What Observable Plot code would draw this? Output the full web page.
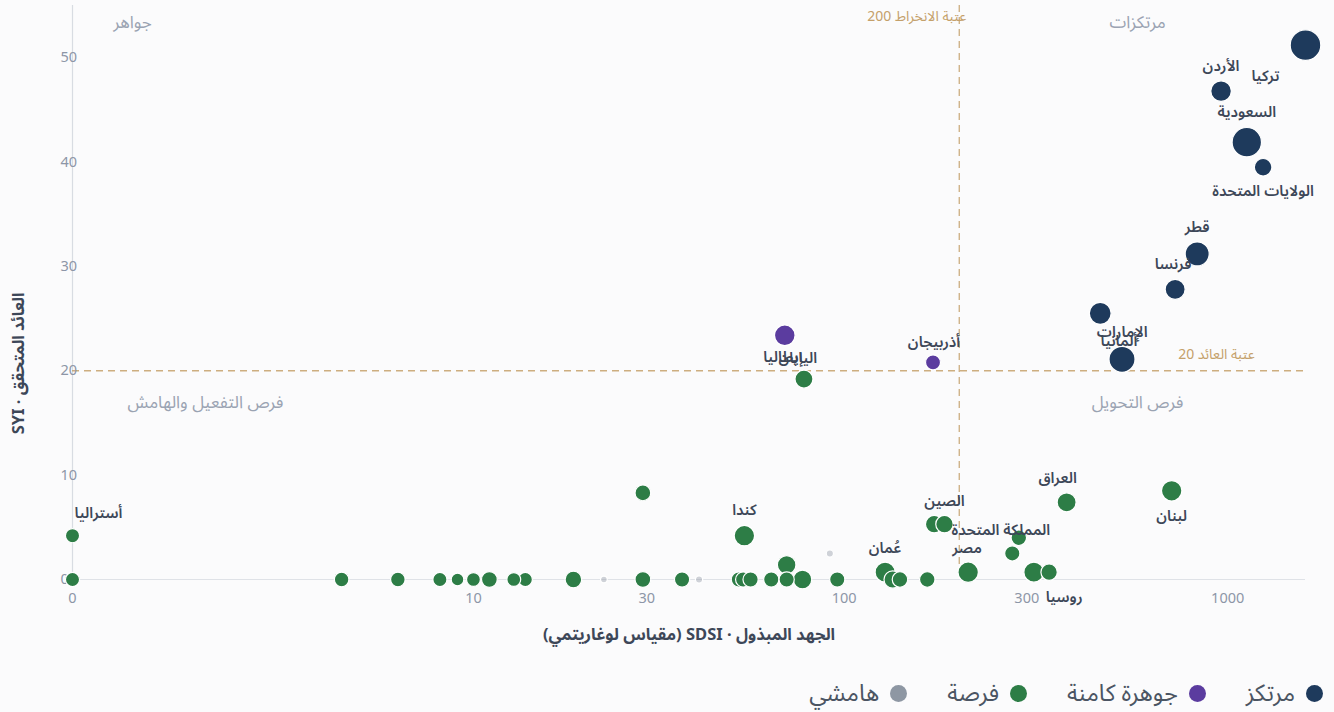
<!DOCTYPE html>
<html dir="rtl" lang="ar">
<head>
<meta charset="utf-8">
<script src="https://cdn.jsdelivr.net/npm/d3@7"></script>
<script src="https://cdn.jsdelivr.net/npm/@observablehq/plot@0.6"></script>
<style>
  html, body { margin: 0; padding: 0; background: #fbfbfc; }
  body { width: 1334px; height: 712px; overflow: hidden; font-family: "Noto Sans", "Noto Sans Arabic", "DejaVu Sans", sans-serif; }
  #legend { display: flex; flex-direction: row; align-items: center; gap: 40px; height: 66px; padding-right: 11px; font-size: 23.5px; color: #4b5563; }
  #legend .item { display: flex; align-items: center; gap: 11px; }
  #legend .sw { width: 17px; height: 17px; border-radius: 50%; display: inline-block; }
</style>
</head>
<body>
<div id="chart"></div>
<div id="legend"></div>
<script>
// ---- data ----
const names = [
  "تركيا","الأردن","السعودية","الولايات المتحدة","قطر","فرنسا","الإمارات","ألمانيا",
  "اليابان","أذربيجان",
  "إيطاليا","أستراليا","","","","","","","","","","","","","","","","كندا","","","","","","","عُمان","","","","","الصين","مصر","","المملكة المتحدة","","روسيا","العراق","لبنان",
  "","",""
];
const sdsi = [
  1593, 961, 1121, 1236, 833, 730, 466, 531,
  69.8, 170.8,
  78.4, 0, 0, 4.0, 6.0, 8.0, 9.0, 10.0, 11.1, 13, 14, 19, 29.3, 29.3, 37.3, 52.8, 54.2, 54.6, 56.7, 64.3, 70.6, 70.6, 77.7, 95.9, 128, 134, 140, 165, 172, 183, 211, 275, 286, 313, 343, 381, 715,
  23, 41.4, 91.7
];
const syi = [
  51.2, 46.8, 41.9, 39.5, 31.2, 27.8, 25.5, 21.1,
  23.4, 20.8,
  19.2, 4.2, 0, 0, 0, 0, 0, 0, 0, 0, 0, 0, 0, 8.3, 0, 0, 0, 4.2, 0, 0, 0, 1.4, 0, 0, 0.7, 0, 0, 0, 5.3, 5.3, 0.7, 2.5, 4.0, 0.7, 0.7, 7.4, 8.5,
  0, 0, 2.5
];
const category = [
  "مرتكز","مرتكز","مرتكز","مرتكز","مرتكز","مرتكز","مرتكز","مرتكز",
  "جوهرة كامنة","جوهرة كامنة",
  "فرصة","فرصة","فرصة","فرصة","فرصة","فرصة","فرصة","فرصة","فرصة","فرصة","فرصة","فرصة","فرصة","فرصة","فرصة","فرصة","فرصة","فرصة","فرصة","فرصة","فرصة","فرصة","فرصة","فرصة","فرصة","فرصة","فرصة","فرصة","فرصة","فرصة","فرصة","فرصة","فرصة","فرصة","فرصة","فرصة","فرصة",
  "هامشي","هامشي","هامشي"
];
const volume = [
  234, 106, 216, 77, 144, 100, 119, 169,
  106, 56,
  81, 50, 50, 53, 53, 50, 40, 48, 62, 48, 50, 69, 62, 62, 58, 58, 58, 104, 58, 58, 58, 86, 86, 58, 100, 76, 60, 60, 76, 76, 104, 58, 60, 100, 67, 90, 104,
  11, 13, 13
];
const categories = ["مرتكز", "جوهرة كامنة", "فرصة", "هامشي"];
const categoryColors = ["#1e3a5c", "#5b3c9f", "#2d7d46", "#8e97a3"];
const xTicks = [0, 10, 30, 100, 300, 1000];
const yTicks = [0, 10, 20, 30, 40, 50];
const effortThreshold = 200;
const yieldThreshold = 20;

// label nudges (styling only)
const labelNudge = {
  "تركيا": [-40, 31], "الأردن": [0, -25], "السعودية": [0, -30], "الولايات المتحدة": [0, 24],
  "قطر": [0, -27], "فرنسا": [-2, -25], "الإمارات": [22, 19], "ألمانيا": [-3, -18],
  "اليابان": [13, 23], "أذربيجان": [1, -20], "إيطاليا": [-21, -22], "أستراليا": [26, -22],
  "كندا": [0, -25], "العراق": [-9, -24], "لبنان": [0, 25], "الصين": [0, -23],
  "المملكة المتحدة": [-18, -8], "مصر": [-1, -24], "عُمان": [0, -24], "روسيا": [15, 25]
};

const data = names.map((n, i) => ({name: n, x: sdsi[i], y: syi[i], cat: category[i], vol: volume[i]}));
const colorOf = Object.fromEntries(categories.map((c, i) => [c, categoryColors[i]]));

const labelColor = "#3d4758";
const quadColor = "#9aa3b2";
const thrColor = "#c4a06a";

const labelMarks = data.filter(d => d.name).map(d => Plot.text([d], {
  x: "x", y: "y", text: "name",
  dx: labelNudge[d.name][0], dy: labelNudge[d.name][1],
  fill: labelColor, fontWeight: 600, fontSize: 15
}));

const chart = Plot.plot({
  width: 1334,
  height: 660,
  marginLeft: 72,
  marginRight: 29,
  marginTop: 5,
  marginBottom: 81,
  style: {background: "transparent", fontFamily: '"Noto Sans", "Noto Sans Arabic", "DejaVu Sans", sans-serif', fontSize: "14px", overflow: "visible"},
  x: {type: "symlog", domain: [0, 1593], label: null},
  y: {domain: [0, 55], label: null},
  r: {type: "sqrt", domain: [0, 240], range: [0, 15.5]},
  marks: [
    Plot.ruleY([0], {stroke: "#dfe2e7", strokeWidth: 1.2}),
    Plot.ruleX([0], {stroke: "#d8dce2", strokeWidth: 1.2}),
    Plot.ruleX([effortThreshold], {stroke: thrColor, strokeDasharray: "7,5", strokeWidth: 1.3, strokeOpacity: 0.85}),
    Plot.ruleY([yieldThreshold], {stroke: thrColor, strokeDasharray: "7,5", strokeWidth: 1.3, strokeOpacity: 0.85}),
    Plot.axisX({ticks: xTicks, tickFormat: d => String(d), tickSize: 0, tickPadding: 13, fill: "#8d96a7", fontSize: 14.5, label: null}),
    Plot.axisY({ticks: yTicks, tickSize: 0, tickPadding: 12, fill: "#8d96a7", fontSize: 14.5, label: null}),
    // quadrant labels
    Plot.text(["جواهر"], {frameAnchor: "top-left", textAnchor: "middle", dx: 60, dy: 17, lineAnchor: "middle", fill: quadColor, fontSize: 17}),
    Plot.text(["مرتكزات"], {frameAnchor: "top-right", textAnchor: "middle", dx: -168, dy: 17, lineAnchor: "middle", fill: quadColor, fontSize: 17}),
    Plot.text(["فرص التفعيل والهامش"], {frameAnchor: "left", textAnchor: "middle", y: [yieldThreshold], dx: 133, dy: 32, fill: quadColor, fontSize: 17}),
    Plot.text(["فرص التحويل"], {frameAnchor: "right", textAnchor: "middle", y: [yieldThreshold], dx: -168, dy: 32, fill: quadColor, fontSize: 17}),
    // threshold labels
    Plot.text(["عتبة الانخراط " + effortThreshold], {x: [effortThreshold], frameAnchor: "top", textAnchor: "start", dx: 7, dy: 11, lineAnchor: "middle", fill: thrColor, fontSize: 14}),
    Plot.text(["\u2066عتبة العائد " + yieldThreshold + "\u2069"], {y: [yieldThreshold], frameAnchor: "right", textAnchor: "middle", dx: -89, dy: -16, fill: thrColor, fontSize: 14}),
    // dots
    Plot.dot(data, {x: "x", y: "y", r: "vol", fill: d => colorOf[d.cat], fillOpacity: d => d.cat === "هامشي" ? 0.4 : 1, stroke: "white", strokeWidth: 1.2}),
    ...labelMarks,
    // axis titles
    Plot.text(["الجهد المبذول · SDSI (مقياس لوغاريتمي)"], {frameAnchor: "bottom", dy: 60, fill: labelColor, fontWeight: 700, fontSize: 16.5}),
    Plot.text(["العائد المتحقق · SYI"], {frameAnchor: "left", dx: -54, rotate: -90, fill: labelColor, fontWeight: 700, fontSize: 16.5})
  ]
});
document.getElementById("chart").appendChild(chart);

const legend = d3.select("#legend");
categories.forEach((c, i) => {
  const item = legend.append("div").attr("class", "item");
  item.append("span").attr("class", "sw").style("background", categoryColors[i]);
  item.append("span").text(c);
});
</script>
</body>
</html>
